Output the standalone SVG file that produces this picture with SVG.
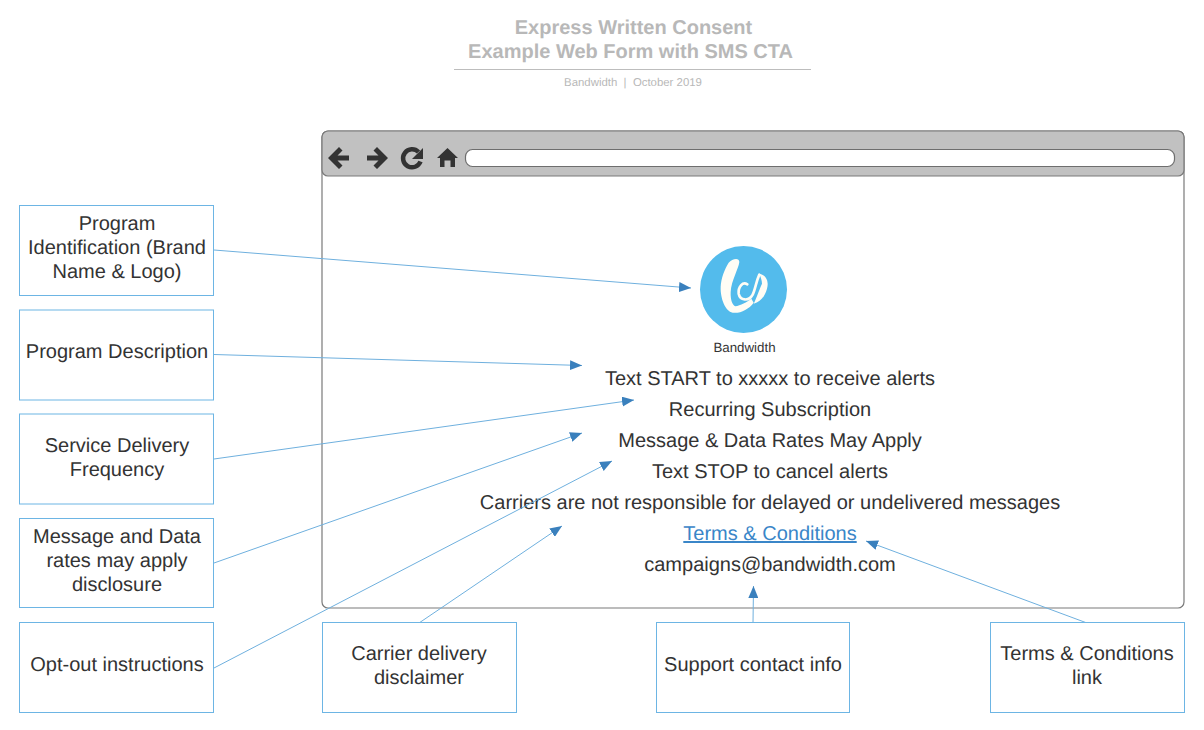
<svg xmlns="http://www.w3.org/2000/svg" width="1204" height="730" viewBox="0 0 1204 730">
<style>
text{font-family:"Liberation Sans",Arial,sans-serif;text-rendering:geometricPrecision}
.box{fill:#fff;stroke:#6db5e4;stroke-width:1}
.lbl{font-size:20px;fill:#333;text-anchor:middle}
.pg{font-size:20px;fill:#333;text-anchor:middle}
.con{fill:none;stroke:#6fb0de;stroke-width:1;marker-end:url(#arr)}
.ic{fill:#333}
</style>
<defs>
<marker id="arr" markerUnits="userSpaceOnUse" markerWidth="13" markerHeight="10" refX="12" refY="5" orient="auto"><path d="M0 0L12 5L0 10Z" fill="#3a80bd"/></marker>
</defs>
<rect width="1204" height="730" fill="#fff"/>
<g id="title">
<text x="633.500" y="34" font-size="20" font-weight="700" fill="#b8b8b8" text-anchor="middle">Express Written Consent</text>
<text x="630.500" y="58" font-size="20" font-weight="700" fill="#b8b8b8" text-anchor="middle">Example Web Form with SMS CTA</text>
<path d="M454 69.500H811" stroke="#bdbdbd" stroke-width="1"/>
<text x="633" y="86" font-size="11.400" fill="#b8b8b8" text-anchor="middle" xml:space="preserve">Bandwidth  |  October 2019</text>
</g>
<g id="browser">
<rect x="322" y="131" width="862" height="477" rx="6" fill="#fff" stroke="#7a7a7a" stroke-width="1.200"/>
<path d="M328 131H1178a6 6 0 0 1 6 6V170a6 6 0 0 1-6 6H328a6 6 0 0 1-6-6V137a6 6 0 0 1 6-6Z" fill="#c1c1c1" stroke="#7a7a7a" stroke-width="1.200"/>
<rect x="465.500" y="149.500" width="709" height="17" rx="7" fill="#fff" stroke="#6e6e6e" stroke-width="1.200"/>
<path class="ic" d="M328 158L339 147L342.500 150.500L337.500 155.500H349V160.500H337.500L342.500 165.500L339 169Z"/>
<path class="ic" d="M388 158L377 147L373.500 150.500L378.500 155.500H367V160.500H378.500L373.500 165.500L377 169Z"/>
<path d="M418.500 152A9 9 0 1 0 420.500 161.500" fill="none" stroke="#333" stroke-width="4.500"/>
<path class="ic" d="M423 148V159H412Z"/>
<path class="ic" d="M447.500 148L458 158H455V167H450.500V160.500H444.500V167H440V158H437Z"/>
</g>
<g id="logo">
<circle cx="743.500" cy="289.500" r="43.500" fill="#53bbec"/>
<g transform="translate(712 252) scale(.33333)" fill="#fffdf5">
<path d="M50 32C60 20 82 15 82 30C80 50 58 85 56 120C55 145 62 160 70 163C85 160 105 150 118 140L125 152C110 172 85 185 62 182C40 178 25 140 26 105C27 80 38 50 50 32Z"/>
<path d="M106 97C92 88 78 105 80 125C84 145 110 150 122 128C130 112 132 90 142 68" fill="none" stroke="#fffdf5" stroke-width="8" stroke-linecap="round"/>
<path d="M142 65C160 68 172 85 165 110C158 135 145 150 125 155C135 135 143 110 150 95C150 85 146 75 142 65Z"/>
</g>
<text x="744.500" y="352" font-size="13.300" fill="#333" text-anchor="middle">Bandwidth</text>
</g>
<g id="page">
<text class="pg" x="770" y="385">Text START to xxxxx to receive alerts</text>
<text class="pg" x="770" y="416">Recurring Subscription</text>
<text class="pg" x="770" y="447">Message &amp; Data Rates May Apply</text>
<text class="pg" x="770" y="478">Text STOP to cancel alerts</text>
<text class="pg" x="770" y="509">Carriers are not responsible for delayed or undelivered messages</text>
<text class="pg" x="770" y="540" style="fill:#3a86c8" text-decoration="underline">Terms &amp; Conditions</text>
<text class="pg" x="770" y="571">campaigns@bandwidth.com</text>
</g>
<g id="connectors">
<path class="con" d="M214 250L691 288"/>
<path class="con" d="M214 354.500L582 365.500"/>
<path class="con" d="M214 459L634 400"/>
<path class="con" d="M214 563L582 433"/>
<path class="con" d="M214 668L612 461"/>
<path class="con" d="M419 623L562 526"/>
<path class="con" d="M753 623L753.500 586"/>
<path class="con" d="M1087 623L866 541"/>
</g>
<g id="n1"><rect class="box" x="19.500" y="205.500" width="194" height="90"/><text class="lbl" x="117" y="230">Program</text><text class="lbl" x="117" y="254">Identification (Brand</text><text class="lbl" x="117" y="278">Name &amp; Logo)</text></g>
<g id="n2"><rect class="box" x="19.500" y="310" width="194" height="90"/><text class="lbl" x="117" y="358">Program Description</text></g>
<g id="n3"><rect class="box" x="19.500" y="414" width="194" height="90"/><text class="lbl" x="117" y="452">Service Delivery</text><text class="lbl" x="117" y="476">Frequency</text></g>
<g id="n4"><rect class="box" x="19.500" y="518.500" width="194" height="89"/><text class="lbl" x="117" y="543">Message and Data</text><text class="lbl" x="117" y="567">rates may apply</text><text class="lbl" x="117" y="591">disclosure</text></g>
<g id="n5"><rect class="box" x="19.500" y="622.500" width="194" height="90"/><text class="lbl" x="117" y="671">Opt-out instructions</text></g>
<g id="n6"><rect class="box" x="322.500" y="622.500" width="194" height="90"/><text class="lbl" x="419" y="660">Carrier delivery</text><text class="lbl" x="419" y="684">disclaimer</text></g>
<g id="n7"><rect class="box" x="656.500" y="622.500" width="193" height="90"/><text class="lbl" x="753" y="671">Support contact info</text></g>
<g id="n8"><rect class="box" x="990.500" y="622.500" width="194" height="90"/><text class="lbl" x="1087" y="660">Terms &amp; Conditions</text><text class="lbl" x="1087" y="684">link</text></g>
</svg>
